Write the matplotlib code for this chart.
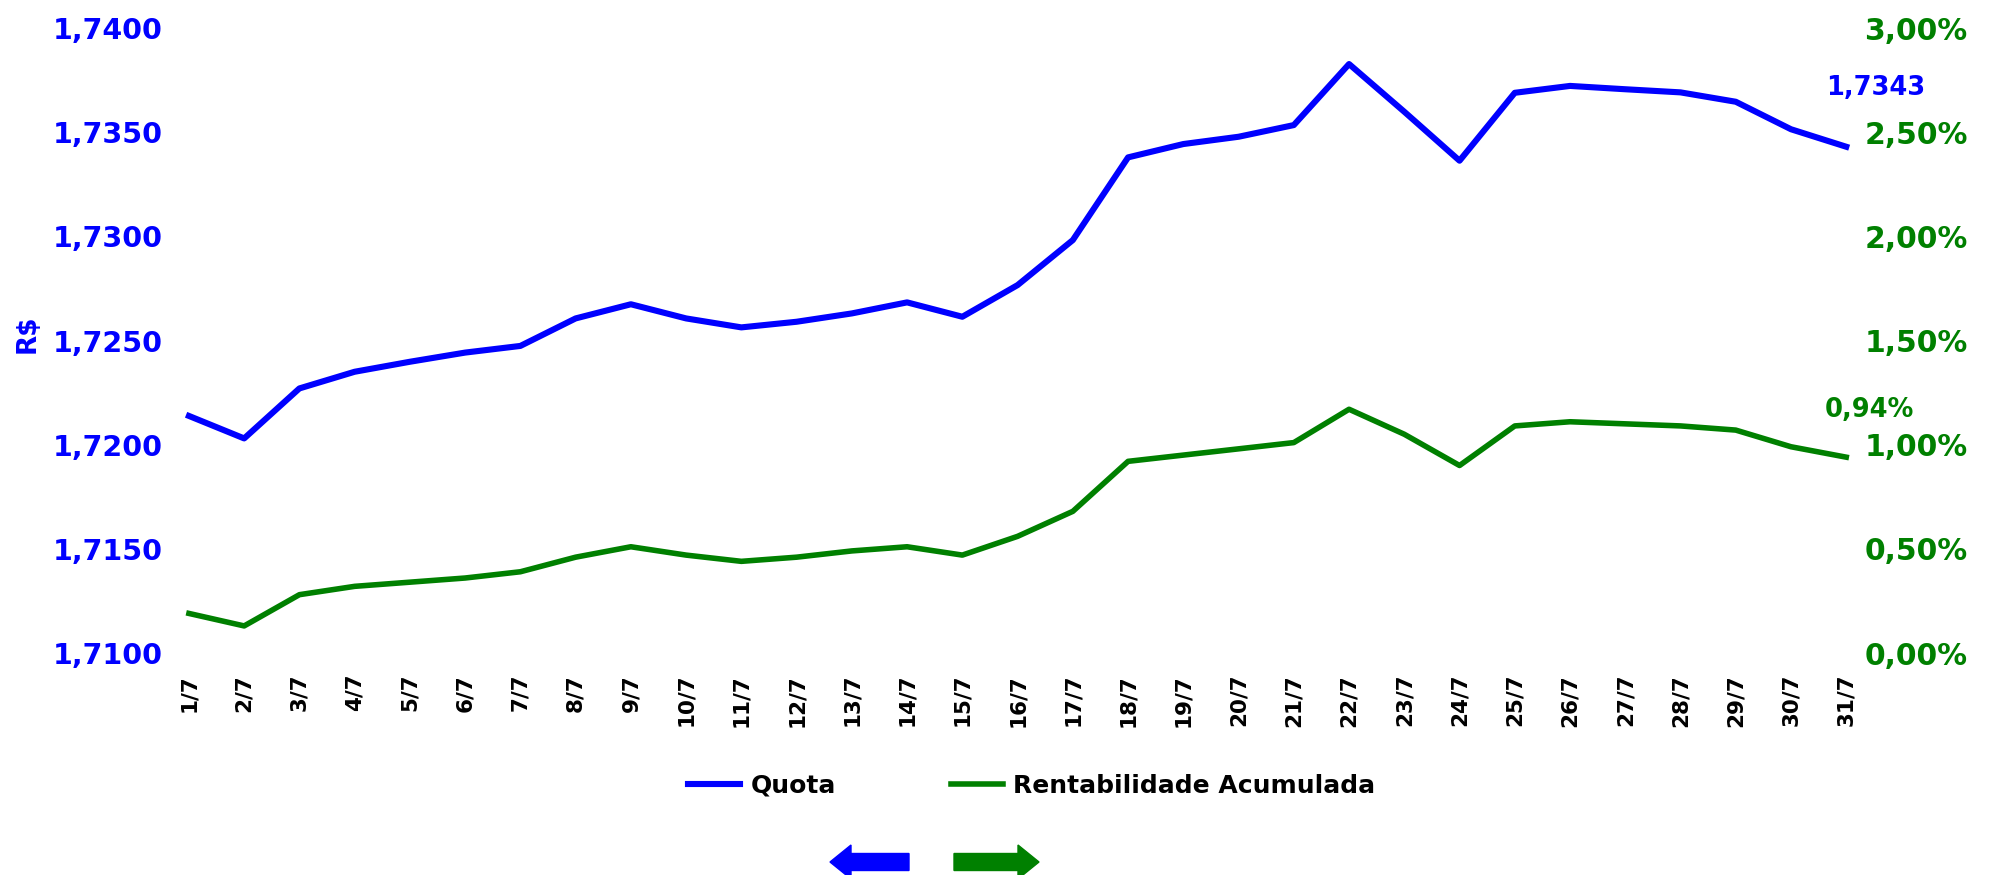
import numpy as np
import matplotlib
matplotlib.use("Agg")
import matplotlib.pyplot as plt
from matplotlib.patches import FancyArrow
from matplotlib.ticker import FuncFormatter, MultipleLocator

# dados de julho: quota (R$) e rentabilidade acumulada (%)
dias = ["1/7", "2/7", "3/7", "4/7", "5/7", "6/7", "7/7", "8/7", "9/7", "10/7",
        "11/7", "12/7", "13/7", "14/7", "15/7", "16/7", "17/7", "18/7", "19/7", "20/7",
        "21/7", "22/7", "23/7", "24/7", "25/7", "26/7", "27/7", "28/7", "29/7", "30/7",
        "31/7"]
quota = [1.72138, 1.72030, 1.72270, 1.72350, 1.72398, 1.72442, 1.72474, 1.72606, 1.72674, 1.72606,
         1.72563, 1.72590, 1.72630, 1.72683, 1.72614, 1.72766, 1.72982, 1.73379, 1.73443, 1.73478,
         1.73534, 1.73827, 1.73598, 1.73363, 1.73689, 1.73722, 1.73706, 1.73691, 1.73646, 1.73514,
         1.73430]
rentab = [0.19, 0.13, 0.28, 0.32, 0.34, 0.36, 0.39, 0.46, 0.51, 0.47,
          0.44, 0.46, 0.49, 0.51, 0.47, 0.56, 0.68, 0.92, 0.95, 0.98,
          1.01, 1.17, 1.05, 0.90, 1.09, 1.11, 1.10, 1.09, 1.07, 0.99,
          0.94]

AZUL = "#0000FF"
VERDE = "#008000"

x = np.arange(1, len(dias) + 1)

fig = plt.figure(figsize=(19.99, 8.75), dpi=100)
ax = fig.add_axes([0.085, 0.2537, 0.8455, 0.7143])
ax2 = ax.twinx()

l1, = ax.plot(x, quota, color=AZUL, linewidth=4.4, solid_joinstyle="round", label="Quota")
l2, = ax2.plot(x, rentab, color=VERDE, linewidth=4.0, solid_joinstyle="round",
               label="Rentabilidade Acumulada")

ax.set_xlim(0.656, 31.25)
ax.set_ylim(1.71, 1.74)
ax2.set_ylim(0, 3.0)
ax.yaxis.set_major_locator(MultipleLocator(0.005))
ax2.yaxis.set_major_locator(MultipleLocator(0.5))
ax.yaxis.set_major_formatter(FuncFormatter(lambda v, p: f"{v:.4f}".replace(".", ",")))
ax2.yaxis.set_major_formatter(FuncFormatter(lambda v, p: f"{v:.2f}".replace(".", ",") + "%"))

ax.set_xticks(x)
ax.set_xticklabels(dias, rotation=90, fontsize=15.5, fontweight="bold", va="top")

for a in (ax, ax2):
    for s in a.spines.values():
        s.set_visible(False)
    a.tick_params(length=0)
ax.tick_params(axis="x", pad=15)
ax.tick_params(axis="y", pad=5, labelsize=20.5, labelcolor=AZUL)
ax2.tick_params(axis="y", pad=3, labelsize=21.5, labelcolor=VERDE)
for t in ax.get_yticklabels() + ax2.get_yticklabels():
    t.set_fontweight("bold")

# R$ sobreposto ao eixo esquerdo
fig.text(28 / 1999, 1 - 334 / 875, "R$", rotation=90, color=AZUL, fontsize=19,
         fontweight="bold", ha="center", va="center")

# valores finais
ax.annotate("1,7343", xy=(x[-1], quota[-1]), xytext=(21, 42), textcoords="offset points",
            color=AZUL, fontsize=18.5, fontweight="bold", ha="center", va="center")
ax2.annotate("0,94%", xy=(x[-1], rentab[-1]), xytext=(17, 34), textcoords="offset points",
             color=VERDE, fontsize=18.5, fontweight="bold", ha="center", va="center")

fig.legend(handles=[l1, l2], loc="center left", bbox_to_anchor=(688 / 1999, 1 - 786 / 875),
           ncol=2, frameon=False, prop={"weight": "bold", "size": 18},
           handlelength=2.1, handletextpad=0.4, columnspacing=4.6, borderpad=0,
           borderaxespad=0)

# setas indicando o eixo de cada serie
fig.add_artist(FancyArrow(9.09, 0.13, -0.79, 0, width=0.17, head_width=0.34, head_length=0.21,
                          length_includes_head=True, color=AZUL,
                          transform=fig.dpi_scale_trans))
fig.add_artist(FancyArrow(9.54, 0.13, 0.85, 0, width=0.17, head_width=0.34, head_length=0.21,
                          length_includes_head=True, color=VERDE,
                          transform=fig.dpi_scale_trans))

fig.savefig("out.png", dpi=100)
